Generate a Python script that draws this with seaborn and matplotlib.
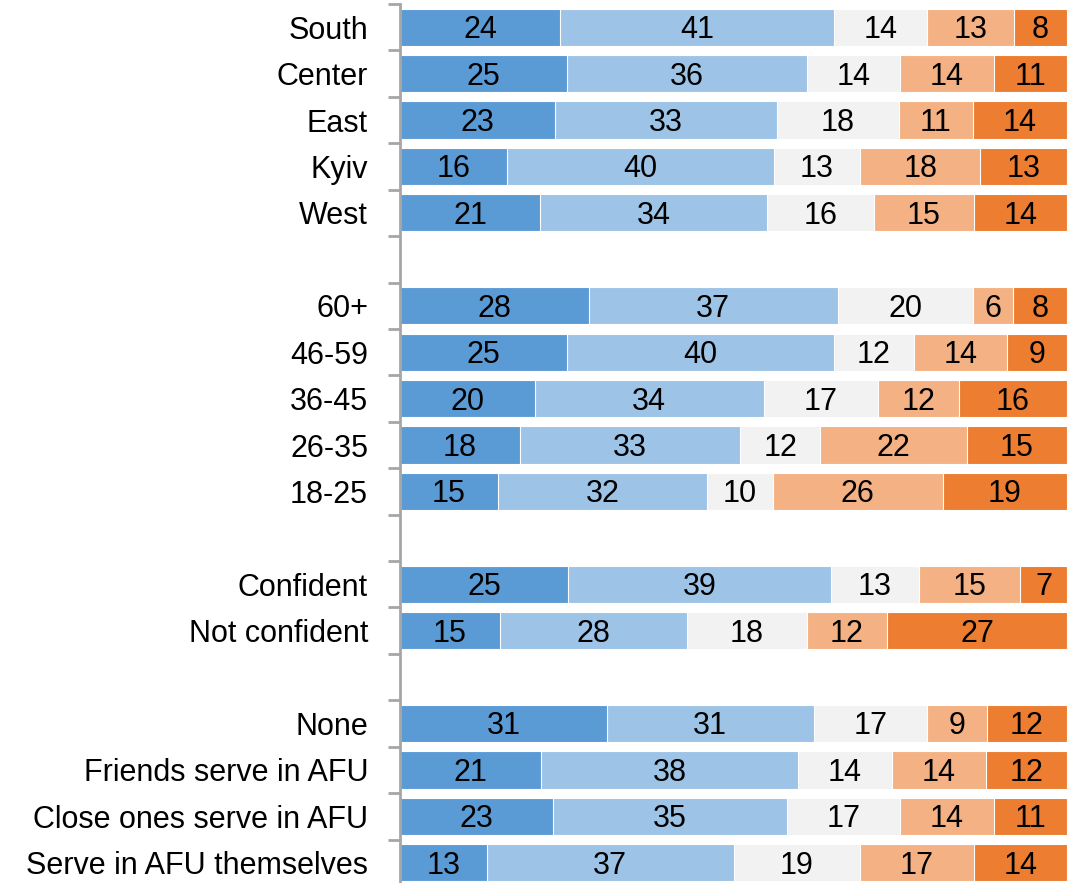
import matplotlib
matplotlib.use("Agg")
import matplotlib.pyplot as plt
import matplotlib.transforms as mtrans
import seaborn as sns
import pandas as pd
import numpy as np

categories = ["South", "Center", "East", "Kyiv", "West", " ",
              "60+", "46-59", "36-45", "26-35", "18-25", "  ",
              "Confident", "Not confident", "   ",
              "None", "Friends serve in AFU", "Close ones serve in AFU", "Serve in AFU themselves"]

seg1 = [24, 25, 23, 16, 21, None, 28, 25, 20, 18, 15, None, 25, 15, None, 31, 21, 23, 13]
seg2 = [41, 36, 33, 40, 34, None, 37, 40, 34, 33, 32, None, 39, 28, None, 31, 38, 35, 37]
seg3 = [14, 14, 18, 13, 16, None, 20, 12, 17, 12, 10, None, 13, 18, None, 17, 14, 17, 19]
seg4 = [13, 14, 11, 18, 15, None, 6, 14, 12, 22, 26, None, 15, 12, None, 9, 14, 14, 17]
seg5 = [8, 11, 14, 13, 14, None, 8, 9, 16, 15, 19, None, 7, 27, None, 12, 12, 11, 14]

colors = ["#5B9BD5", "#9DC3E6", "#F2F2F2", "#F4B183", "#ED7D31"]

sns.set_theme(style="white")
plt.rcParams['font.family'] = ["Liberation Sans", 'DejaVu Sans']
FS = 22

rows = []
for c, a, b, d, e, f in zip(categories, seg1, seg2, seg3, seg4, seg5):
    if a is None:
        continue
    rows.append(dict(cat=c, s1=a, s2=b, s3=d, s4=e, s5=f))
df = pd.DataFrame(rows)
segs = ["s1", "s2", "s3", "s4", "s5"]
# share of each row (rounded labels may not add to exactly 100)
share = df[segs].div(df[segs].sum(axis=1), axis=0) * 100
cum = share.cumsum(axis=1)

fig = plt.figure(figsize=(10.69, 8.83), dpi=100)
ax = fig.add_axes([400/1069, -3/883, 667/1069, 882/883])

for i in range(4, -1, -1):
    tmp = pd.DataFrame({"cat": df["cat"], "val": cum[segs[i]]})
    sns.barplot(data=tmp, x="val", y="cat", order=categories, orient="h",
                color=colors[i], saturation=1, width=0.8, edgecolor="white",
                linewidth=0.8, ax=ax)

pos = {c: k for k, c in enumerate(categories)}
txt_tr = mtrans.offset_copy(ax.transData, fig=fig, x=0, y=-7.9, units="points")
for idx, r in df.iterrows():
    left = 0
    for s in segs:
        w = share.loc[idx, s]
        ax.text(left + w / 2, pos[r["cat"]], f"{int(r[s])}", ha="center", va="baseline",
                fontsize=FS, color="black", transform=txt_tr)
        left += w

ax.set_xlim(0, 100)
ax.set_ylim(len(categories) - 0.5, -0.5)
ax.set_xlabel("")
ax.set_ylabel("")
ax.set_xticks([])
for s in ["top", "right", "bottom"]:
    ax.spines[s].set_visible(False)
ax.spines["left"].set_color("#A6A6A6")
ax.spines["left"].set_linewidth(2)
ax.set_yticks(range(len(categories)))
ax.set_yticklabels(categories, fontsize=FS, color="black", va="center_baseline")
ax.tick_params(axis="y", which="major", length=0, pad=23)
ax.set_yticks(np.arange(-0.5, len(categories), 1), minor=True)
ax.tick_params(axis="y", which="minor", length=8.6, width=2, color="#A6A6A6", direction="out", left=True)

fig.savefig("out.png", dpi=100)
